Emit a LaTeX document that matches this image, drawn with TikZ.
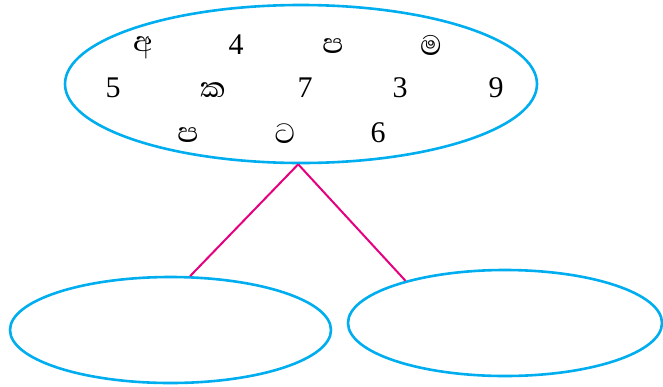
\documentclass[tikz,border=0pt]{standalone}
\usepackage{fontspec}
\setmainfont{Liberation Serif}
\newfontfamily\sinfont[Script=Sinhala]{Abhaya Libre}
\usetikzlibrary{shapes.geometric}
\definecolor{ecyan}{RGB}{0,174,239}
\definecolor{emag}{RGB}{230,0,126}
\tikzset{
  oval/.style={draw=ecyan, line width=2.6pt, ellipse, inner sep=0pt},
  link/.style={draw=emag, line width=2pt},
  ch/.style={font=\fontsize{30}{30}\selectfont, inner sep=0pt, anchor=center},
  sch/.style={font=\sinfont\fontsize{36}{36}\selectfont, inner sep=0pt, anchor=center}
}
\begin{document}
\begin{tikzpicture}[x=1pt,y=-1pt]
\useasboundingbox (0,0) rectangle (663,386);
\node[oval, minimum width=472pt, minimum height=158pt] (t) at (301,84) {};
\node[oval, minimum width=321pt, minimum height=106pt] (l) at (170.5,330) {};
\node[oval, minimum width=314pt, minimum height=106pt] (r) at (505,323) {};
\draw[link] (t.268) -- (l.70);
\draw[link] (t.268) -- (r.157);
% row 1
\node[sch] (a1) at (143,48) {අ};
\node[ch] (a2) at (236,45) {4};
\node[sch] (a3) at (333,46) {ප};
\node[sch] (a4) at (431,45) {ම};
% row 2
\node[ch] (b1) at (113,88) {5};
\node[sch] (b2) at (213,90) {ක};
\node[ch] (b3) at (305,88) {7};
\node[ch] (b4) at (400,88) {3};
\node[ch] (b5) at (496,88) {9};
% row 3
\node[sch] (c1) at (188,135) {ප};
\node[sch] (c2) at (285,134) {ට};
\node[ch] (c3) at (378,133) {6};
\end{tikzpicture}
\end{document}
